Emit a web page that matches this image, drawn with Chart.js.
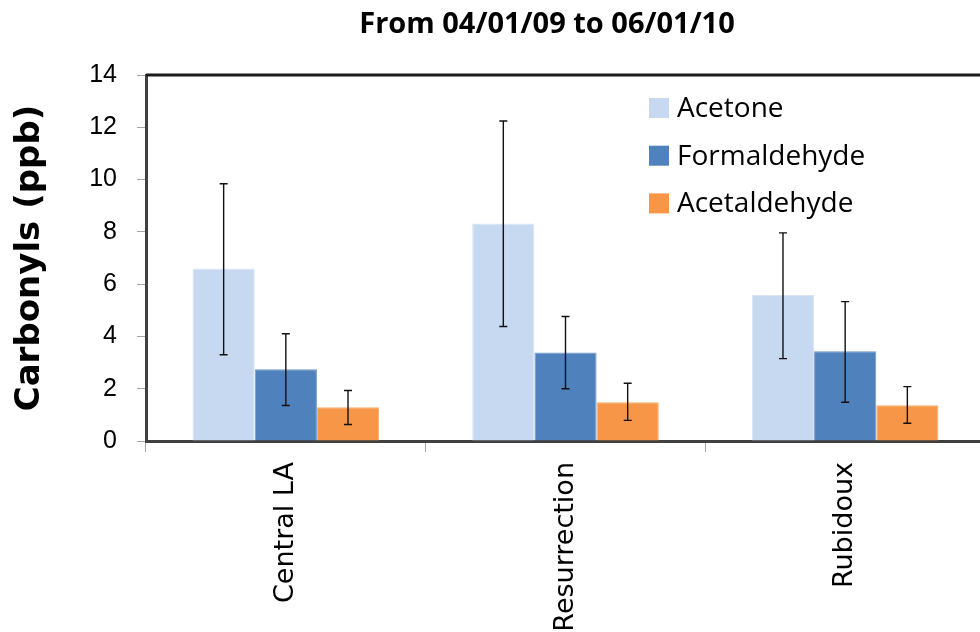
<!DOCTYPE html>
<html>
<head>
<meta charset="utf-8">
<script src="https://cdn.jsdelivr.net/npm/chart.js@4.4.1/dist/chart.umd.min.js"></script>
<style>
  html, body { margin: 0; padding: 0; background: #fff; overflow: hidden; }
  #wrap { position: relative; width: 1094px; height: 632px; }
  #title { position: absolute; left: 0; top: 2px; width: 1094px; text-align: center;
           font: bold 29px "Open Sans", sans-serif; color: #000; }
</style>
</head>
<body>
<div id="wrap">
  <div id="title">From 04/01/09 to 06/01/10</div>
  <canvas id="myChart" width="1094" height="632"></canvas>
</div>
<script>
const categories = ['Central LA', 'Resurrection', 'Rubidoux'];

const acetone = [6.6, 8.32, 5.58];
const acetoneLo = [3.3, 4.38, 3.15];
const acetoneHi = [9.84, 12.24, 7.96];

const formaldehyde = [2.74, 3.39, 3.43];
const formaldehydeLo = [1.36, 2.0, 1.48];
const formaldehydeHi = [4.1, 4.76, 5.33];

const acetaldehyde = [1.29, 1.48, 1.37];
const acetaldehydeLo = [0.63, 0.79, 0.68];
const acetaldehydeHi = [1.93, 2.21, 2.08];

const yTicks = [0, 2, 4, 6, 8, 10, 12, 14];

const errLo = [acetoneLo, formaldehydeLo, acetaldehydeLo];
const errHi = [acetoneHi, formaldehydeHi, acetaldehydeHi];

// error bars, drawn through the y scale
const errorBars = {
    id: 'errorBars',
    afterDatasetsDraw(chart) {
        const ctx = chart.ctx;
        const y = chart.scales.y;
        ctx.save();
        ctx.strokeStyle = '#111';
        ctx.lineWidth = 1.4;
        chart.data.datasets.forEach((ds, i) => {
            chart.getDatasetMeta(i).data.forEach((bar, j) => {
                const x = bar.x;
                const top = y.getPixelForValue(errHi[i][j]);
                const bot = y.getPixelForValue(errLo[i][j]);
                ctx.beginPath();
                ctx.moveTo(x, top); ctx.lineTo(x, bot);
                ctx.moveTo(x - 4, top); ctx.lineTo(x + 4, top);
                ctx.moveTo(x - 4, bot); ctx.lineTo(x + 4, bot);
                ctx.stroke();
            });
        });
        ctx.restore();
    }
};

// plot frame (top and right) + legend inside the plot
const frameLegend = {
    id: 'frameLegend',
    afterDraw(chart) {
        const ctx = chart.ctx;
        const a = chart.chartArea;
        ctx.save();
        ctx.strokeStyle = '#1a1a1a';
        ctx.lineWidth = 3;
        ctx.beginPath();
        ctx.moveTo(a.left, a.top);
        ctx.lineTo(a.right, a.top);
        ctx.lineTo(a.right, a.bottom);
        ctx.stroke();

        ctx.font = '28px "Open Sans", sans-serif';
        ctx.textBaseline = 'middle';
        chart.data.datasets.forEach((ds, i) => {
            const cy = 108 + i * 47.7;
            ctx.fillStyle = ds.backgroundColor;
            ctx.fillRect(649, cy - 10, 20, 20);
            ctx.fillStyle = '#000';
            ctx.fillText(ds.label, 677, cy + 1);
        });
        ctx.restore();
    }
};

const ctx = document.getElementById('myChart').getContext('2d');
const myChart = new Chart(ctx, {
    type: 'bar',
    data: {
        labels: categories,
        datasets: [
            {
                label: 'Acetone',
                data: acetone,
                backgroundColor: '#c6d9f1',
                borderColor: '#d9e5f5',
                borderWidth: 1
            },
            {
                label: 'Formaldehyde',
                data: formaldehyde,
                backgroundColor: '#4f81bd',
                borderColor: '#6e96c8',
                borderWidth: 1
            },
            {
                label: 'Acetaldehyde',
                data: acetaldehyde,
                backgroundColor: '#f79646',
                borderColor: '#f9ad6e',
                borderWidth: 1
            }
        ]
    },
    options: {
        responsive: false,
        animation: false,
        layout: {
            padding: { top: 75, right: 109, left: 0, bottom: 0 }
        },
        datasets: {
            bar: {
                categoryPercentage: 0.667,
                barPercentage: 1.0
            }
        },
        scales: {
            y: {
                min: 0,
                max: 14,
                afterBuildTicks: (s) => { s.ticks = yTicks.map(v => ({ value: v })); },
                afterFit: (s) => { s.width = 146; },
                grid: {
                    drawOnChartArea: false,
                    color: '#a6a6a6',
                    tickLength: 9
                },
                border: { color: '#404040', width: 3 },
                ticks: {
                    color: '#000',
                    padding: 20,
                    font: { family: '"Liberation Sans", sans-serif', size: 25 }
                },
                title: {
                    display: true,
                    text: 'Carbonyls (ppb)',
                    color: '#000',
                    font: { family: '"DejaVu Sans", sans-serif', size: 34, weight: 'bold' },
                    padding: { top: 10, bottom: 0 }
                }
            },
            x: {
                afterFit: (s) => { s.height = 191; },
                grid: {
                    drawOnChartArea: false,
                    offset: true,
                    color: '#a6a6a6',
                    tickLength: 11
                },
                border: { color: '#404040', width: 3 },
                ticks: {
                    color: '#000',
                    minRotation: 90,
                    maxRotation: 90,
                    padding: 10,
                    font: { family: '"DejaVu Sans", sans-serif', size: 27 }
                }
            }
        },
        plugins: {
            legend: { display: false },
            title: { display: false },
            tooltip: { enabled: false }
        }
    },
    plugins: [errorBars, frameLegend]
});
</script>
</body>
</html>
